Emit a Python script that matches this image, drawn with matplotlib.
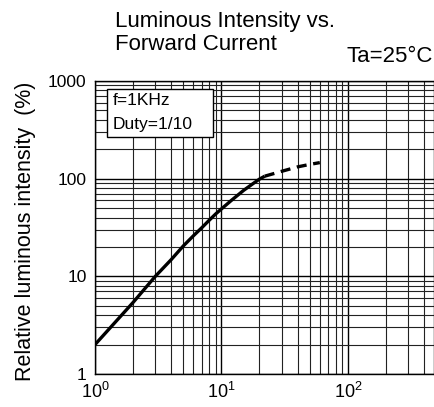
import matplotlib
matplotlib.use('Agg')
import matplotlib.pyplot as plt
import matplotlib.ticker as ticker
from matplotlib.patches import Rectangle

# ----------------------------------------------------------------------
# Data
# ----------------------------------------------------------------------

current_solid   = [1, 2, 3, 4, 5, 6, 7, 8, 9, 10, 12, 15, 18, 20, 22]
intensity_solid = [2, 5.4, 10, 14.8, 20.5, 26, 31.5, 37.5, 43.5, 49,
                   60, 76, 90, 99, 106]

current_dash   = [22, 30, 40, 50, 60]
intensity_dash = [106, 119, 132, 140, 146]

y_ticks  = [1, 10, 100, 1000]
y_labels = ['1', '10', '100', '1000']
x_ticks  = [1, 10, 100]
x_labels = ['$10^0$', '$10^1$', '$10^2$']

plain = ['Liberation Sans', 'DejaVu Sans']

plt.rcParams['mathtext.fontset'] = 'custom'
plt.rcParams['mathtext.rm'] = 'Liberation Sans'
plt.rcParams['mathtext.it'] = 'Liberation Sans'

W, H = 434.0, 407.0
fig = plt.figure(figsize=(W / 100, H / 100), dpi=100)
ax = fig.add_axes([95 / W, 33 / H, 1 - 95 / W, 293 / H])

ax.set_xscale('log')
ax.set_yscale('log')
ax.set_xlim(1, 480)
ax.set_ylim(1, 1000)

ax.xaxis.set_minor_locator(ticker.LogLocator(base=10, subs=range(2, 10)))
ax.yaxis.set_minor_locator(ticker.LogLocator(base=10, subs=range(2, 10)))
ax.grid(True, which='major', color='black', linewidth=1.0)
ax.grid(True, which='minor', color='#222222', linewidth=0.8)
ax.set_axisbelow(True)

ax.plot(current_solid, intensity_solid, color='black', linewidth=2.4,
        solid_capstyle='butt')
ax.plot(current_dash, intensity_dash, color='black', linewidth=2.4,
        linestyle=(0, (3.0, 2.0)))

ax.set_xticks(x_ticks)
ax.set_xticklabels(x_labels, fontsize=13)
ax.set_yticks(y_ticks)
ax.set_yticklabels(y_labels, fontsize=12.5, family=plain)
ax.xaxis.set_minor_formatter(ticker.NullFormatter())
ax.yaxis.set_minor_formatter(ticker.NullFormatter())
ax.tick_params(which='both', length=0)
ax.tick_params(axis='x', pad=6)
ax.tick_params(axis='y', pad=6)

for s in ax.spines.values():
    s.set_linewidth(1.0)

# condition box
ax.add_patch(Rectangle((0.035, 0.809), 0.313, 0.164, transform=ax.transAxes,
                       facecolor='white', edgecolor='black', linewidth=1.0,
                       zorder=5))
ax.text(0.053, 0.935, 'f=1KHz', transform=ax.transAxes, fontsize=12.5,
        family=plain, ha='left', va='center', zorder=6)
ax.text(0.053, 0.850, 'Duty=1/10', transform=ax.transAxes, fontsize=12.5,
        family=plain, ha='left', va='center', zorder=6)

# titles
fig.text(115 / W, 1 - 27 / H, 'Luminous Intensity vs.', fontsize=16,
         family=plain, ha='left', va='baseline')
fig.text(115 / W, 1 - 50 / H, 'Forward Current', fontsize=16,
         family=plain, ha='left', va='baseline')
fig.text(433 / W, 1 - 62 / H, 'Ta=25°C', fontsize=16, family=plain,
         ha='right', va='baseline')

fig.text(26 / W, 1 - 231 / H, 'Relative luminous intensity  (%)',
         fontsize=15.5, family=plain, rotation=90, ha='center', va='center')

plt.savefig('out.png', dpi=100)
